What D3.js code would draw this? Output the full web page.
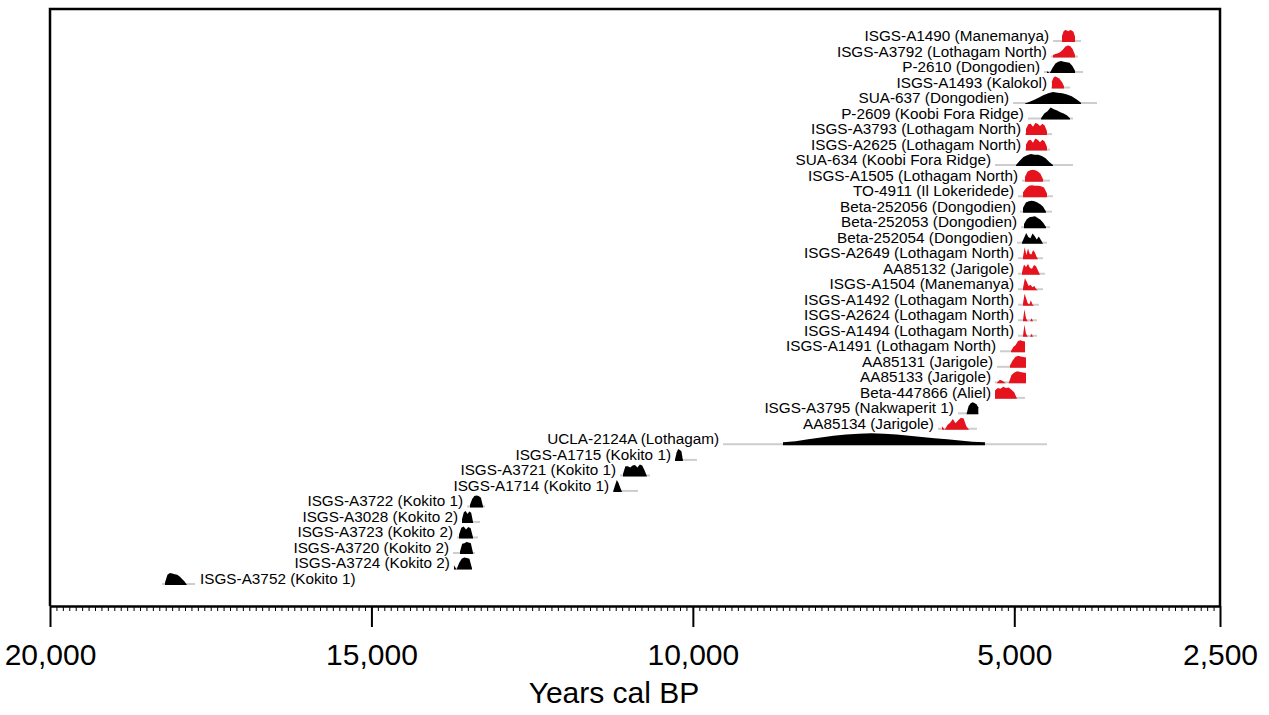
<!DOCTYPE html>
<html>
<head>
<meta charset="utf-8">
<script src="https://cdn.jsdelivr.net/npm/d3@7"></script>
<style>
  body { margin: 0; background: #fff; }
  text { font-family: "Liberation Sans", Arial, Helvetica, sans-serif; fill: #000; }
</style>
</head>
<body>
<svg id="chart" width="1269" height="715"></svg>
<script>
// Sample labels, top to bottom
const sampleNames = [
  "ISGS-A1490 (Manemanya)", "ISGS-A3792 (Lothagam North)", "P-2610 (Dongodien)",
  "ISGS-A1493 (Kalokol)", "SUA-637 (Dongodien)", "P-2609 (Koobi Fora Ridge)",
  "ISGS-A3793 (Lothagam North)", "ISGS-A2625 (Lothagam North)", "SUA-634 (Koobi Fora Ridge)",
  "ISGS-A1505 (Lothagam North)", "TO-4911 (Il Lokeridede)", "Beta-252056 (Dongodien)",
  "Beta-252053 (Dongodien)", "Beta-252054 (Dongodien)", "ISGS-A2649 (Lothagam North)",
  "AA85132 (Jarigole)", "ISGS-A1504 (Manemanya)", "ISGS-A1492 (Lothagam North)",
  "ISGS-A2624 (Lothagam North)", "ISGS-A1494 (Lothagam North)", "ISGS-A1491 (Lothagam North)",
  "AA85131 (Jarigole)", "AA85133 (Jarigole)", "Beta-447866 (Aliel)",
  "ISGS-A3795 (Nakwaperit 1)", "AA85134 (Jarigole)", "UCLA-2124A (Lothagam)",
  "ISGS-A1715 (Kokito 1)", "ISGS-A3721 (Kokito 1)", "ISGS-A1714 (Kokito 1)",
  "ISGS-A3722 (Kokito 1)", "ISGS-A3028 (Kokito 2)", "ISGS-A3723 (Kokito 2)",
  "ISGS-A3720 (Kokito 2)", "ISGS-A3724 (Kokito 2)", "ISGS-A3752 (Kokito 1)"
];

// "new" = dates reported here, "prev" = previously published dates
const sampleGroup = [
  "new","new","prev","new","prev","prev","new","new","prev","new","new","prev",
  "prev","prev","new","new","new","new","new","new","new","new","new","new",
  "prev","new","prev","prev","prev","prev","prev","prev","prev","prev","prev","prev"
];

// Full calibration range (grey line), years cal BP [older, younger]
const rangeOld = [4398,4430,4538,4429,5020,4787,4833,4833,5300,4880,4942,4911,
                  4895,4958,4942,4942,4942,4942,4942,4942,5222,5269,5300,5300,
                  5876,6187,9531,10278,11133,11242,13513,13591,13669,13731,13716,18258];
const rangeYoung = [3962,4009,3931,4133,3713,4087,4414,4444,4087,4444,4398,4414,
                    4444,4491,4553,4522,4553,4616,4647,4647,4833,4818,4818,4833,
                    5560,5580,4491,9936,10667,10853,13233,13311,13342,13389,13436,17744];

// Span covered by each probability density, years cal BP [older, younger]
const densOld = [4258,4398,4491,4414,4833,4584,4818,4818,4973,4833,4864,4864,
                 4849,4880,4864,4880,4864,4864,4864,4864,5051,5067,5269,5300,
                 5740,6124,8598,10278,11087,11237,13467,13591,13638,13622,13716,18211];
const densYoung = [4055,4055,4055,4227,3962,4133,4491,4491,4398,4553,4491,4507,
                   4507,4553,4631,4600,4631,4693,4709,4709,4833,4818,4818,4958,
                   5560,5704,5456,10153,10713,11102,13264,13420,13420,13420,13436,17869];

// Relative probability, sampled evenly from the older to the younger end
const densValues = [
  [0.5,0.9,1,0.95,0.9,1,0.95,0.85,0.45],
  [0.2,0.3,0.35,0.45,0.65,0.9,1,0.95,0.7,0.2],
  [0.15,0,0.45,0.8,0.95,1,0.95,0.9,0.85,0.6,0.2],
  [0.6,0.95,1,0.95,0.85,0.7,0.5,0.2],
  [0.05,0.2,0.35,0.55,0.75,0.9,1,0.95,0.9,0.8,0.65,0.4,0.1],
  [0.1,0.5,0.7,1,0.85,0.75,0.6,0.5,0.35,0.1],
  [0.5,0.9,0.95,0.7,1,0.95,0.75,0.95,0.8,0.3],
  [0.5,0.85,0.9,0.65,1,0.9,0.7,0.9,0.75,0.3],
  [0.1,0.45,0.75,0.9,1,0.95,0.95,0.85,0.65,0.35,0.1],
  [0.4,0.85,0.95,1,0.95,0.85,0.65,0.2],
  [0.4,0.75,0.95,1,0.95,0.95,0.9,0.8,0.3],
  [0.4,0.85,0.95,1,0.95,0.85,0.7,0.5,0.1],
  [0.35,0.75,0.9,0.95,1,0.85,0.7,0.45,0.1],
  [0.1,0.5,0.9,0.55,0.45,0.85,0.65,0.35,0.6,0.3,0],
  [0.2,1,0.35,0.9,0.45,0.4,0.75,0.6,0.25,0],
  [0.2,0.85,0.65,0.9,0.55,0.5,0.8,0.7,0.35,0],
  [0.2,1,0.7,0.35,0.45,0.25,0.35,0.1,0],
  [0.2,1,0.6,0.2,0.1,0.45,0.1,0],
  [0.1,1,0.3,0.05,0,0,0.25,0],
  [0.1,1,0.3,0.05,0,0,0.25,0],
  [0.1,0.45,0.6,0.95,1,0.95,0.9],
  [0.2,0.6,0.9,1,0.95,0.9,0.85],
  [0.05,0.3,0.2,0,0,0.7,0.9,1,0.95,0.9,0.85],
  [0.7,0.9,0.85,1,0.9,0.95,0.75,0.55,0],
  [0.1,0.7,0.9,1,0.95,0.85,0.6],
  [0.3,0,0.4,0.6,0.9,0.55,0.8,1,0.95,0.3,0],
  [0.25,0.35,0.5,0.65,0.8,0.9,0.97,1,0.97,0.9,0.8,0.7,0.6,0.5,0.4,0.3,0.25],
  [0.1,0.7,1,0.9,0.8,0],
  [0.2,0.85,0.85,0.75,0.9,0.95,0.75,1,0.9,0.5,0],
  [0.1,0.55,1,0.75,0.35,0],
  [0.2,0.7,0.95,1,0.95,0.8,0.1],
  [0.3,0.9,1,0.75,0.95,0.85,0.1],
  [0.3,0.9,1,0.75,0.95,0.85,0.1],
  [0.2,0.85,0.9,1,0.95,0.9,0.1],
  [0.35,0,0.55,0.9,1,0.95,0.9,0.1],
  [0.2,0.85,1,0.95,0.9,0.85,0.7,0.5,0.3,0]
];

// Axis
const majorTicks = [20000, 15000, 10000, 5000, 1800];
const majorTickLabels = ["20,000", "15,000", "10,000", "5,000", "2,500"];
const minorStep = 100;
const axisTitle = "Years cal BP";

const groupColor = { "new": "#e5131d", "prev": "#000000" };

const svg = d3.select("#chart");
const plot = { left: 50, right: 1220, top: 9, bottom: 606 };

const x = d3.scaleLinear().domain([20000, 1800]).range([plot.left, plot.right]);
const row = d3.scalePoint().domain(d3.range(sampleNames.length)).range([42, 585]);
const h = d3.scaleLinear().domain([0, 1]).range([0, 12]);

// frame (top, left, right); the bottom edge is the axis line
svg.append("path")
  .attr("d", `M${plot.left},${plot.bottom}V${plot.top}H${plot.right}V${plot.bottom}`)
  .attr("fill", "none").attr("stroke", "#000").attr("stroke-width", 2.5);

const rows = svg.append("g");

sampleNames.forEach((name, i) => {
  const base = row(i);
  const g = rows.append("g");

  // calibration range line
  g.append("line")
    .attr("x1", x(rangeOld[i])).attr("x2", x(rangeYoung[i]))
    .attr("y1", base - 1).attr("y2", base - 1)
    .attr("stroke", "#cdcdcd").attr("stroke-width", 2);

  // probability density
  const vals = densValues[i];
  const yr = d3.scaleLinear().domain([0, vals.length - 1]).range([densOld[i], densYoung[i]]);
  const area = d3.area()
    .x((d, k) => x(yr(k)))
    .y0(base)
    .y1(d => base - h(d))
    .curve(d3.curveLinear);
  g.append("path")
    .attr("d", area(vals))
    .attr("fill", groupColor[sampleGroup[i]]);

  // label: to the left of the range when there is room, otherwise to the right
  const t = g.append("text")
    .attr("y", base - 1)
    .attr("font-size", 15.3)
    .text(name);
  const w = t.node().getComputedTextLength();
  const leftEnd = x(rangeOld[i]) - 4;
  if (leftEnd - w > plot.left + 4) {
    t.attr("x", leftEnd).attr("text-anchor", "end");
  } else {
    t.attr("x", x(rangeYoung[i]) + 5).attr("text-anchor", "start");
  }
});

// minor ticks
const minorVals = d3.range(20000, 1800 - 1, -minorStep);
svg.append("g")
  .attr("transform", `translate(0,${plot.bottom})`)
  .call(d3.axisBottom(x).tickValues(minorVals).tickSize(5).tickSizeOuter(0).tickFormat(""))
  .call(a => a.select(".domain").remove())
  .call(a => a.selectAll("line").attr("stroke", "#000").attr("stroke-width", 1));

// major ticks and labels
svg.append("g")
  .attr("transform", `translate(0,${plot.bottom})`)
  .call(d3.axisBottom(x).tickValues(majorTicks).tickSize(21).tickSizeOuter(0)
        .tickFormat((d, k) => majorTickLabels[k]))
  .call(a => a.select(".domain").attr("stroke", "#000").attr("stroke-width", 2.5))
  .call(a => a.selectAll(".tick line").attr("stroke", "#000").attr("stroke-width", 2))
  .call(a => a.selectAll(".tick text")
      .attr("y", 59).attr("dy", 0)
      .attr("font-size", 30)
      .attr("font-family", "'Liberation Sans', Arial, Helvetica, sans-serif")
      .attr("fill", "#000"));

svg.append("text")
  .attr("x", 614).attr("y", 703)
  .attr("text-anchor", "middle")
  .attr("font-size", 30)
  .text(axisTitle);
</script>
</body>
</html>
